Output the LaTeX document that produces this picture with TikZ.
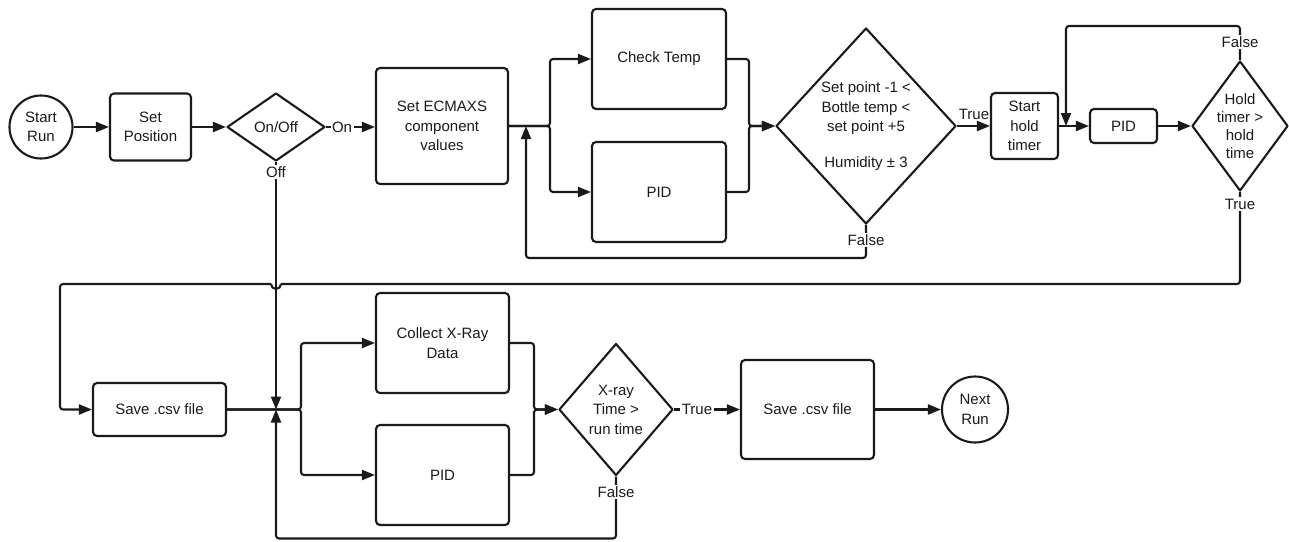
\documentclass[tikz,border=0pt]{standalone}
\usepackage{fontspec}
\setmainfont{Liberation Sans}
\usetikzlibrary{arrows.meta,shapes.geometric}
\definecolor{ink}{HTML}{1A1A1A}
\begin{document}
\begin{tikzpicture}[x=1pt,y=-1pt,
  every node/.style={font=\fontsize{15}{19.5}\selectfont, text=ink},
  box/.style={draw=ink, line width=2.1pt, rounded corners=4pt, align=center, inner sep=0pt},
  dia/.style={draw=ink, line width=2.1pt, diamond, inner sep=0pt, line join=round},
  term/.style={draw=ink, circle, line width=2.1pt, inner sep=0pt, minimum size=63pt, align=center},
  txt/.style={align=center},
  conn/.style={draw=ink, line width=2.1pt, rounded corners=3pt},
  arr/.style={conn, -{Triangle[length=13pt,width=10pt]}},
  lbl/.style={fill=white, inner sep=1.5pt}
]
\useasboundingbox (0,0) rectangle (1289,541);

% ---- top row ----
\node[term] (start) at (41,127) {Start\\Run};
\node[box, minimum width=81pt, minimum height=67pt] (setpos) at (150.5,127) {Set\\Position};
\node[dia, minimum width=98pt, minimum height=68pt] (onoff) at (276,127) {};
\node[txt] (onofft) at (onoff) {On/Off};
\node[box, minimum width=132pt, minimum height=116pt] (ecm) at (442,126) {Set ECMAXS\\component\\values};
\node[box, minimum width=134pt, minimum height=100pt] (check) at (659,59) {Check Temp};
\node[box, minimum width=134pt, minimum height=100pt] (pid1) at (659,192) {PID};
\node[dia, minimum width=180pt, minimum height=196pt] (bigd) at (866,126) {};
\node[txt] (bigdt) at (bigd) {Set point -1 <\\Bottle temp <\\set point +5\\[16pt]Humidity ± 3};
\node[box, minimum width=67pt, minimum height=66pt] (sht) at (1024.5,126) {Start\\hold\\timer};
\node[box, minimum width=67pt, minimum height=34pt] (pid2) at (1123.5,126) {PID};
\node[dia, minimum width=96pt, minimum height=130pt] (hold) at (1240,126) {};
\node[txt, font=\fontsize{15}{18}\selectfont] (holdt) at (hold) {Hold\\timer >\\hold\\time};

% ---- bottom row ----
\node[box, minimum width=133pt, minimum height=53pt] (save1) at (159.5,409.5) {Save .csv file};
\node[box, minimum width=133pt, minimum height=100pt] (collect) at (442.5,343) {Collect X-Ray\\Data};
\node[box, minimum width=133pt, minimum height=100pt] (pid3) at (442.5,475) {PID};
\node[dia, minimum width=114pt, minimum height=132pt] (xd) at (616,409.5) {};
\node[txt] (xdt) at (xd) {X-ray\\Time >\\run time};
\node[box, minimum width=133pt, minimum height=99pt] (save2) at (807.5,409.5) {Save .csv file};
\node[term, minimum size=66pt] (next) at (975,409.5) {Next\\Run};

% ---- coordinates ----
\coordinate (s1) at (550,126);
\coordinate (m1) at (749,126);
\coordinate (fb) at (526,126);
\coordinate (fbl) at (526,258);
\coordinate (hf) at (1066,126);
\coordinate (hfc) at (1066,26);
\coordinate (jr) at (281,284);
\coordinate (jl) at (271,284);
\coordinate (lcb) at (60,409.5);
\coordinate (j2) at (276,409.5);
\coordinate (s2) at (301,409.5);
\coordinate (m2) at (534,409.5);
\coordinate (fb2) at (276,538.5);

% ---- top connectors ----
\draw[arr] (start.east) -- (setpos.west);
\draw[arr] (setpos.east) -- (onoff.west);
\draw[arr] (onoff.east) -- (onoff.east -| ecm.west);
\node[lbl] (onl) at (342,127) {On};
\draw[arr] (ecm.east |- s1) -- (s1) |- (check.west);
\draw[arr] (ecm.east |- s1) -- (s1) |- (pid1.west);
\draw[arr] (check.east) -| (m1) -- (bigd.west);
\draw[arr] (pid1.east) -| (m1) -- (bigd.west);
\draw[arr] (bigd.south) |- (fbl) -- (fb);
\node[lbl] (f1) at (866,240) {False};
\draw[arr] (bigd.east) -- (sht.west);
\node (t1) at (974,114) {True};
\draw[arr] (sht.east) -- (pid2.west);
\draw[arr] (pid2.east) -- (hold.west);
\draw[arr] (hold.north) |- (hfc) -- (hf);
\node[lbl] (f2) at (1240,42) {False};

% ---- long return line with jump ----
\draw[conn] (hold.south) |- (jr);
\draw[draw=ink, line width=2.1pt] (jr) arc[start angle=0, end angle=-180, radius=5pt];
\draw[arr] (jl) -| (lcb) -- (save1.west);
\node[lbl] (t2) at (1240,204) {True};

% ---- off branch ----
\draw[arr] (onoff.south) -- (j2);
\node[lbl] (offl) at (276,172) {Off};

% ---- bottom connectors ----
\draw[arr] (save1.east) -- (s2) |- (collect.west);
\draw[arr] (save1.east) -- (s2) |- (pid3.west);
\draw[arr] (collect.east) -| (m2) -- (xd.west);
\draw[arr] (pid3.east) -| (m2) -- (xd.west);
\draw[arr] (xd.east) -- (save2.west);
\node[lbl] (t3) at (697,409.5) {True};
\draw[arr] (save2.east) -- (next.west);
\draw[arr] (xd.south) |- (fb2) -- (j2);
\node[lbl] (f3) at (616,492) {False};
\end{tikzpicture}
\end{document}
